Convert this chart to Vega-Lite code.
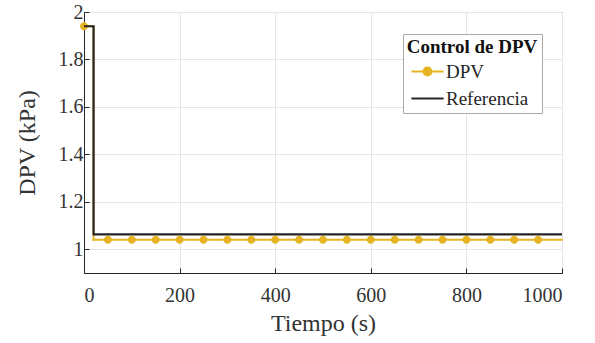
{
  "$schema": "https://vega.github.io/schema/vega-lite/v6.json",
  "width": 478,
  "height": 261,
  "autosize": "none",
  "padding": {"left": 84, "top": 12, "right": 33, "bottom": 70},
  "background": "white",
  "config": {
    "font": "Liberation Serif",
    "view": {"stroke": "#262626", "strokeWidth": 1},
    "axis": {
      "labelFont": "Liberation Serif",
      "titleFont": "Liberation Serif",
      "labelFontSize": 20,
      "titleFontSize": 24,
      "labelColor": "#333333",
      "titleColor": "#333333",
      "titleFontWeight": "normal",
      "domainColor": "#262626",
      "tickColor": "#262626",
      "tickSize": -5,
      "gridColor": "#e6e6e6"
    }
  },
  "data": {
    "values": [
      {"t": 0, "v": 1.94, "s": "Referencia", "m": false},
      {"t": 20, "v": 1.063, "s": "Referencia", "m": false},
      {"t": 1000, "v": 1.063, "s": "Referencia", "m": false},
      {"t": 0, "v": 1.94, "s": "DPV", "m": true},
      {"t": 20, "v": 1.04, "s": "DPV", "m": false},
      {"t": 50, "v": 1.04, "s": "DPV", "m": true},
      {"t": 100, "v": 1.04, "s": "DPV", "m": true},
      {"t": 150, "v": 1.04, "s": "DPV", "m": true},
      {"t": 200, "v": 1.04, "s": "DPV", "m": true},
      {"t": 250, "v": 1.04, "s": "DPV", "m": true},
      {"t": 300, "v": 1.04, "s": "DPV", "m": true},
      {"t": 350, "v": 1.04, "s": "DPV", "m": true},
      {"t": 400, "v": 1.04, "s": "DPV", "m": true},
      {"t": 450, "v": 1.04, "s": "DPV", "m": true},
      {"t": 500, "v": 1.04, "s": "DPV", "m": true},
      {"t": 550, "v": 1.04, "s": "DPV", "m": true},
      {"t": 600, "v": 1.04, "s": "DPV", "m": true},
      {"t": 650, "v": 1.04, "s": "DPV", "m": true},
      {"t": 700, "v": 1.04, "s": "DPV", "m": true},
      {"t": 750, "v": 1.04, "s": "DPV", "m": true},
      {"t": 800, "v": 1.04, "s": "DPV", "m": true},
      {"t": 850, "v": 1.04, "s": "DPV", "m": true},
      {"t": 900, "v": 1.04, "s": "DPV", "m": true},
      {"t": 950, "v": 1.04, "s": "DPV", "m": true},
      {"t": 1000, "v": 1.04, "s": "DPV", "m": false}
    ]
  },
  "encoding": {
    "x": {
      "field": "t", "type": "quantitative",
      "scale": {"domain": [0, 1000], "nice": false},
      "axis": {"values": [0, 200, 400, 600, 800, 1000], "format": "d", "title": "Tiempo (s)", "labelPadding": 17, "titlePadding": 6}
    },
    "y": {
      "field": "v", "type": "quantitative",
      "scale": {"domain": [0.9, 2], "nice": false, "zero": false},
      "axis": {"values": [1, 1.2, 1.4, 1.6, 1.8, 2], "format": "~g", "title": "DPV (kPa)", "labelPadding": 6, "titlePadding": 19}
    },
    "color": {
      "field": "s", "type": "nominal",
      "scale": {"domain": ["DPV", "Referencia"], "range": ["#E6B422", "#262626"]},
      "legend": {
        "title": "Control de DPV",
        "orient": "none",
        "legendX": 319,
        "legendY": 22,
        "titleFont": "Liberation Serif",
        "titleFontSize": 19,
        "titleFontWeight": "bold",
        "titleColor": "#111111",
        "titleAnchor": "middle",
        "titlePadding": 2,
        "labelFont": "Liberation Serif",
        "labelFontSize": 19,
        "labelColor": "#262626",
        "strokeColor": "#aaaaaa",
        "fillColor": "white",
        "padding": 4,
        "symbolSize": 529,
        "symbolStrokeWidth": 2,
        "rowPadding": 4,
        "labelOffset": 6
      }
    },
    "shape": {
      "field": "s", "type": "nominal",
      "scale": {"domain": ["DPV", "Referencia"], "range": ["M-1.4,0L1.4,0M-0.35,0A0.35,0.35 0 1,1 0.35,0A0.35,0.35 0 1,1 -0.35,0", "M-1.4,0L1.4,0"]}
    }
  },
  "layer": [
    {
      "transform": [{"filter": "datum.s == 'DPV'"}],
      "mark": {"type": "line", "interpolate": "step-after", "strokeWidth": 2}
    },
    {
      "transform": [{"filter": "datum.m"}],
      "mark": {"type": "point", "filled": true, "size": 529, "opacity": 1}
    },
    {
      "transform": [{"filter": "datum.s == 'Referencia'"}],
      "mark": {"type": "line", "interpolate": "step-after", "strokeWidth": 2.2}
    }
  ]
}
